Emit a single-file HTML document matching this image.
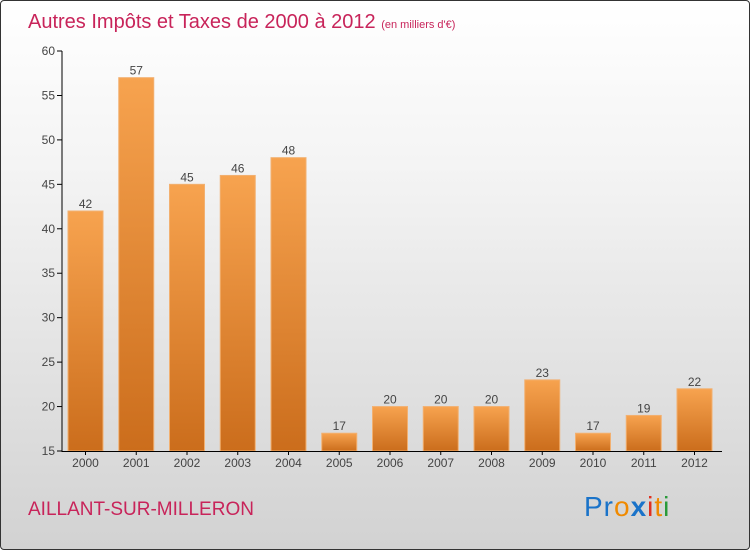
<!DOCTYPE html>
<html><head><meta charset="utf-8"><style>
body{margin:0}
#c{width:748px;height:548px;border:1px solid #333;border-radius:4px;position:relative;background:linear-gradient(#ffffff,#f4f4f4 30%,#d2d2d2);overflow:hidden;font-family:"Liberation Sans",sans-serif}
</style></head><body>
<div id="c">
<svg width="748" height="548" id="s">
<defs><linearGradient id="g" x1="0" y1="0" x2="0" y2="1"><stop offset="0" stop-color="#f7a34f"/><stop offset="1" stop-color="#cb6d1c"/></linearGradient></defs>
<text x="27" y="27" font-size="20" fill="#c8245a">Autres Impôts et Taxes de 2000 à 2012 <tspan font-size="11">(en milliers d'€)</tspan></text>
<text x="27" y="514" font-size="19" fill="#c8245a">AILLANT-SUR-MILLERON</text>
<text x="583" y="515" font-size="28" letter-spacing="1"><tspan fill="#1a73c9">Pr</tspan><tspan fill="#f08a00">o</tspan><tspan fill="#1a73c9" font-weight="bold">x</tspan><tspan fill="#e03020">i</tspan><tspan fill="#f08a00">t</tspan><tspan fill="#2a9a3a">i</tspan></text>
<g id="ax"></g>
</svg></div>
<script>
const years=["2000","2001","2002","2003","2004","2005","2006","2007","2008","2009","2010","2011","2012"];
const values=[42,57,45,46,48,17,20,20,20,23,17,19,22];
const yTicks=[15,20,25,30,35,40,45,50,55,60];
const ns="http://www.w3.org/2000/svg",g=document.getElementById("ax");
const y=v=>450-(v-15)*400/45, x=i=>67+i*50.75;
function mk(t,a,txt){const e=document.createElementNS(ns,t);for(const k in a)e.setAttribute(k,a[k]);if(txt!=null)e.textContent=txt;g.appendChild(e);return e;}
yTicks.forEach(v=>{
 const l=mk("line",{x1:56,x2:61,y1:y(v),y2:y(v),stroke:"#000"});
 
 
 const t=mk("text",{x:54,y:y(v)+4,"font-size":12,fill:"#444","text-anchor":"end"},v);
 
 
});
values.forEach((v,i)=>{
 const r=mk("rect",{x:x(i),y:y(v),width:35,height:450-y(v),fill:"url(#g)",stroke:"#f2b070","stroke-width":1});
 
 
 const t=mk("text",{x:x(i)+17.5,y:y(v)-3,"font-size":12,fill:"#444","text-anchor":"middle"},v);
 
 
 const tl=mk("text",{x:x(i)+17.5,y:466,"font-size":12,fill:"#444","text-anchor":"middle"},years[i]);
 
 
 const tk=mk("line",{x1:x(i)+17.5,x2:x(i)+17.5,y1:450,y2:454,stroke:"#000"});
 
 
});
const ya=mk("line",{x1:61,x2:61,y1:50,y2:451,stroke:"#000"});


const xa=mk("line",{x1:61,x2:721,y1:450.5,y2:450.5,stroke:"#000"});


</script>
</body></html>
